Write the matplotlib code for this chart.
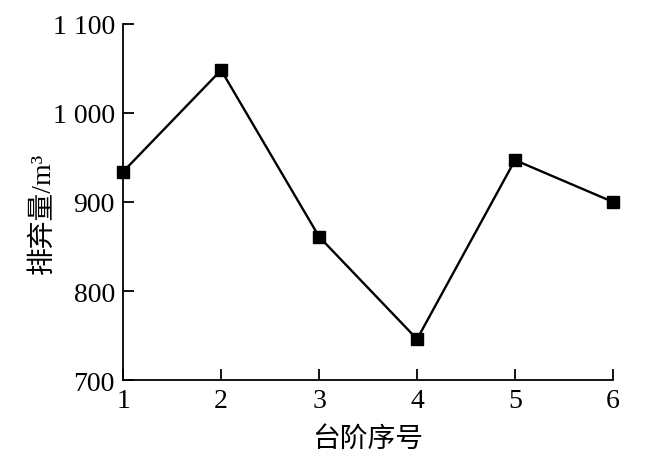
import matplotlib.pyplot as plt

steps = [1, 2, 3, 4, 5, 6]
volume = [934, 1048, 861, 746, 947, 900]
yticks = [700, 800, 900, 1000, 1100]
ytick_labels = ["700", "800", "900", "1 000", "1 100"]

plt.rcParams['font.family'] = ['Liberation Serif', 'Noto Sans CJK SC']

fig = plt.figure(figsize=(6.62, 4.77), dpi=100)
ax = fig.add_axes([0.186, 0.201, 0.74, 0.747])

ax.plot(steps, volume, color="black", lw=1.7, marker="s", ms=8.5, clip_on=False, zorder=3)

ax.set_xlim(1, 6)
ax.set_ylim(700, 1100)
ax.set_xticks(steps)
ax.set_yticks(yticks)
ax.set_yticklabels(ytick_labels)
ax.tick_params(direction="in", length=8, width=1.3, labelsize=20, pad=6)
for s in ["top", "right"]:
    ax.spines[s].set_visible(False)
for s in ["left", "bottom"]:
    ax.spines[s].set_linewidth(1.3)

ax.set_xlabel("台阶序号", fontsize=20, labelpad=9, fontweight="light")
ax.set_ylabel("排弃量/m³", fontsize=20, fontweight="light")
ax.yaxis.set_label_coords(-0.137, 0.47)

fig.savefig("out.png", dpi=100)
